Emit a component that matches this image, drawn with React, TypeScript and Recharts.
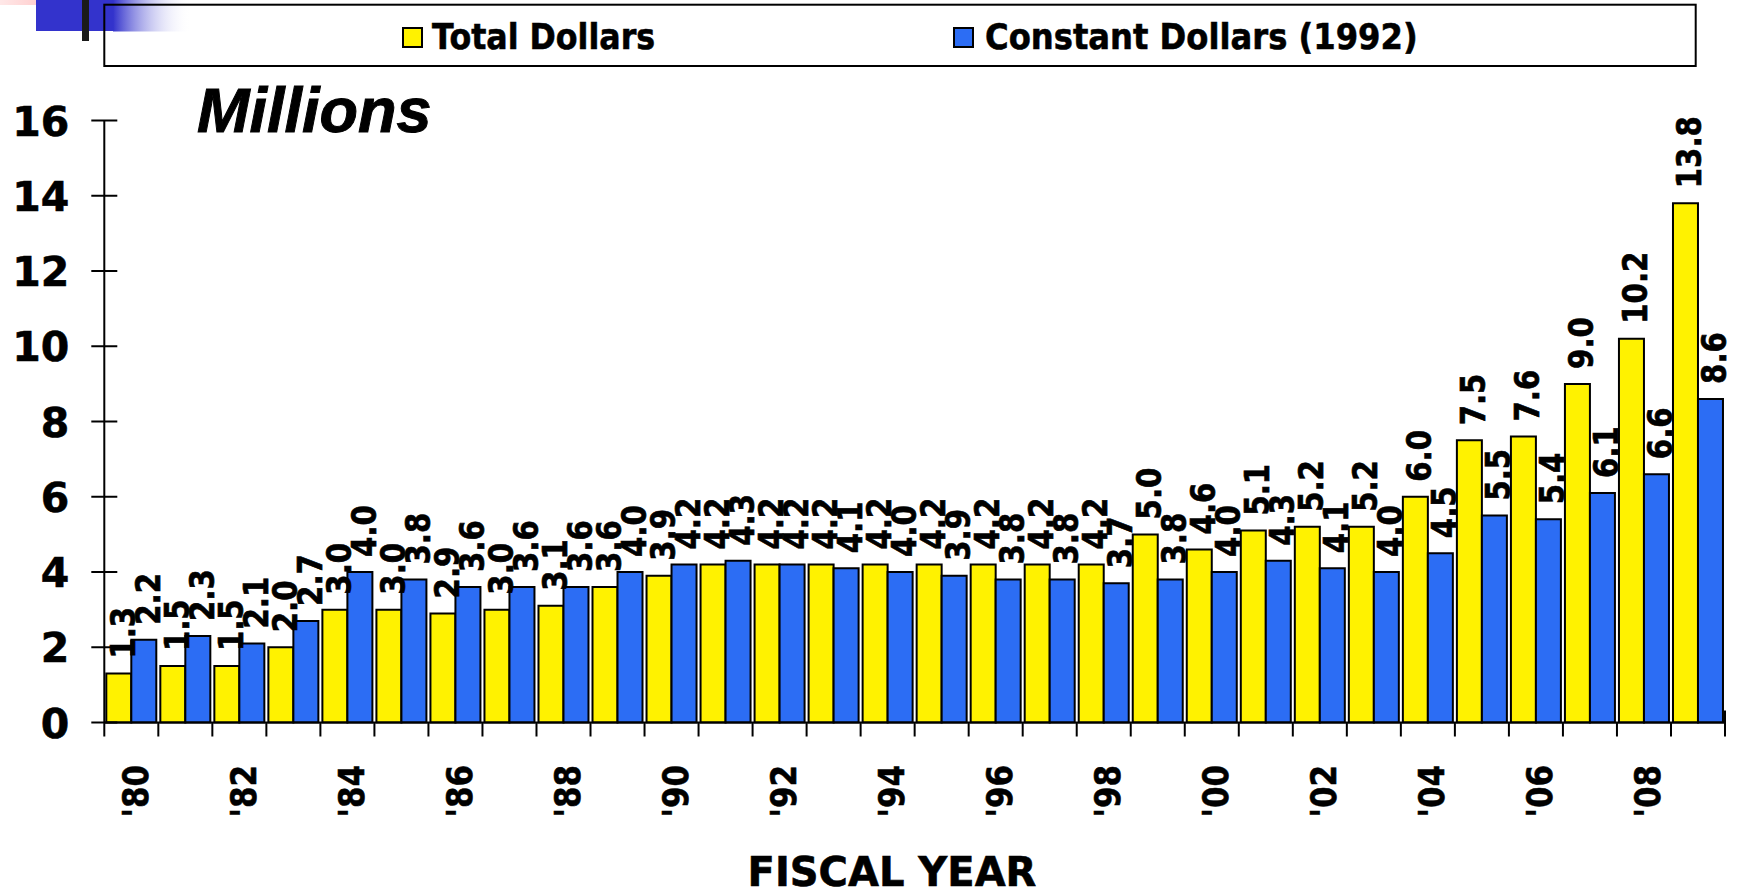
import React from 'react';
import { BarChart, Bar, XAxis, YAxis, LabelList } from 'recharts';

// --- data ---
const years = [
  "'80", "'81", "'82", "'83", "'84", "'85", "'86", "'87", "'88", "'89",
  "'90", "'91", "'92", "'93", "'94", "'95", "'96", "'97", "'98", "'99",
  "'00", "'01", "'02", "'03", "'04", "'05", "'06", "'07", "'08", "'09",
];
const totalDollars = [
  1.3, 1.5, 1.5, 2.0, 3.0, 3.0, 2.9, 3.0, 3.1, 3.6,
  3.9, 4.2, 4.2, 4.2, 4.2, 4.2, 4.2, 4.2, 4.2, 5.0,
  4.6, 5.1, 5.2, 5.2, 6.0, 7.5, 7.6, 9.0, 10.2, 13.8,
];
const constantDollars = [
  2.2, 2.3, 2.1, 2.7, 4.0, 3.8, 3.6, 3.6, 3.6, 4.0,
  4.2, 4.3, 4.2, 4.1, 4.0, 3.9, 3.8, 3.8, 3.7, 3.8,
  4.0, 4.3, 4.1, 4.0, 4.5, 5.5, 5.4, 6.1, 6.6, 8.6,
];
const yTicks = [0, 2, 4, 6, 8, 10, 12, 14, 16];

const chartData = years.map((year, i) => ({
  year,
  total: totalDollars[i],
  constant: constantDollars[i],
}));

const W = 1740;
const H = 896;
const PLOT_LEFT = 104.3;
const PLOT_RIGHT = 1725;
const PLOT_TOP = 120.5;
const PLOT_BOTTOM = 722.5;
const BAND = (PLOT_RIGHT - PLOT_LEFT) / years.length;

const YELLOW = '#FFF200';
const BLUE = '#2C6DF4';
const FONT = '"DejaVu Sans", Verdana, sans-serif';

// y ticks cross the axis line on both sides
const YTick = (props: any) => {
  const { x, y, payload } = props;
  return (
    <g>
      <line x1={x - 13} x2={x + 13} y1={y} y2={y} stroke="#000" strokeWidth={2} />
      <text x={x - 35} y={y} dy={15} textAnchor="end" fontFamily={FONT} fontWeight="bold" fontSize={41} fill="#000" stroke="#000" strokeWidth={0.6}>
        {payload.value}
      </text>
    </g>
  );
};

// tick marks sit between categories, labels only on even years
const XTick = (props: any) => {
  const { x, y, payload } = props;
  const index = props.index ?? payload.index ?? 0;
  const last = index === years.length - 1;
  return (
    <g>
      <line x1={x - BAND / 2} x2={x - BAND / 2} y1={y} y2={y + 14} stroke="#000" strokeWidth={2} />
      {last && <line x1={x + BAND / 2} x2={x + BAND / 2} y1={y - 12} y2={y + 14} stroke="#000" strokeWidth={2} />}
      {index % 2 === 0 && (
        <text
          transform={`translate(${x + 4},${y + 42.5}) rotate(-90) scale(0.86,1)`}
          textAnchor="end"
          dominantBaseline="central"
          fontFamily={FONT}
          fontWeight="bold"
          fontSize={36}
          fill="#000"
          stroke="#000"
          strokeWidth={0.6}
        >
          {payload.value}
        </text>
      )}
    </g>
  );
};

const renderValue = (props: any) => {
  const vb = props.viewBox || props;
  const { x, y, width } = vb;
  const cx = x + width / 2 + 4;
  return (
    <text
      transform={`translate(${cx},${y - 15}) rotate(-90) scale(0.86,1)`}
      textAnchor="start"
      dominantBaseline="central"
      fontFamily={FONT}
      fontWeight="bold"
      fontSize={34}
      fill="#000"
      stroke="#000"
      strokeWidth={0.7}
    >
      {Number(props.value).toFixed(1)}
    </text>
  );
};

const Overlay = () => (
  <svg width={W} height={H} style={{ position: 'absolute', left: 0, top: 0, pointerEvents: 'none' }}>
    <defs>
      <linearGradient id="pinkFade" x1="0" x2="1" y1="0" y2="0">
        <stop offset="0%" stopColor="#FFE8E8" />
        <stop offset="100%" stopColor="#FFBDBD" />
      </linearGradient>
      <linearGradient id="blueFade" x1="0" x2="1" y1="0" y2="0">
        <stop offset="0%" stopColor="#3333CC" />
        <stop offset="100%" stopColor="#FFFFFF" stopOpacity={0} />
      </linearGradient>
    </defs>
    {/* slide decoration top-left */}
    <rect x={0} y={0} width={67} height={5} fill="url(#pinkFade)" />
    <rect x={36} y={0} width={78} height={31} fill="#3333CC" />
    <rect x={113} y={0} width={78} height={31.5} fill="url(#blueFade)" />
    <rect x={82} y={0} width={7} height={41} fill="#1A1A1A" />

    {/* legend box */}
    <rect x={104.3} y={4.7} width={1591.4} height={61.3} fill="none" stroke="#000" strokeWidth={2} />
    <rect x={403} y={28} width={19} height={19} fill={YELLOW} stroke="#000" strokeWidth={2} />
    <text transform="translate(432,49) scale(0.88,1)" fontFamily={FONT} fontWeight="bold" fontSize={36} fill="#000" stroke="#000" strokeWidth={0.6}>
      Total Dollars
    </text>
    <rect x={954} y={28} width={19} height={19} fill={BLUE} stroke="#000" strokeWidth={2} />
    <text transform="translate(985,49) scale(0.895,1)" fontFamily={FONT} fontWeight="bold" fontSize={36} fill="#000" stroke="#000" strokeWidth={0.6}>
      Constant Dollars (1992)
    </text>

    <text x={197} y={131.5} fontFamily='"Liberation Sans", Arial, sans-serif' fontWeight="bold" fontStyle="italic" fontSize={63} fill="#000" stroke="#000" strokeWidth={1}>
      Millions
    </text>
    <text x={892} y={886} textAnchor="middle" fontFamily={FONT} fontWeight="bold" fontSize={40} fill="#000" stroke="#000" strokeWidth={0.6}>
      FISCAL YEAR
    </text>
  </svg>
);

export default function App() {
  return (
    <div style={{ position: 'absolute', left: 0, top: 0, width: W, height: H, background: '#fff' }}>
      <BarChart
        width={W}
        height={H}
        data={chartData}
        margin={{ top: PLOT_TOP, right: W - PLOT_RIGHT, bottom: H - PLOT_BOTTOM - 170, left: PLOT_LEFT - 100 }}
        barGap={0}
        barCategoryGap={2}
      >
        <XAxis
          dataKey="year"
          interval={0}
          height={170}
          tickLine={false}
          tickSize={0}
          tickMargin={0}
          tick={<XTick />}
          axisLine={{ stroke: '#000', strokeWidth: 2 }}
        />
        <YAxis
          type="number"
          domain={[0, 16]}
          ticks={yTicks}
          width={100}
          tickLine={false}
          tickSize={0}
          tickMargin={0}
          tick={<YTick />}
          axisLine={{ stroke: '#000', strokeWidth: 2 }}
        />
        <Bar dataKey="total" fill={YELLOW} stroke="#000" strokeWidth={2} isAnimationActive={false}>
          <LabelList dataKey="total" content={renderValue} />
        </Bar>
        <Bar dataKey="constant" fill={BLUE} stroke="#000" strokeWidth={2} isAnimationActive={false}>
          <LabelList dataKey="constant" content={renderValue} />
        </Bar>
      </BarChart>
      <Overlay />
    </div>
  );
}
